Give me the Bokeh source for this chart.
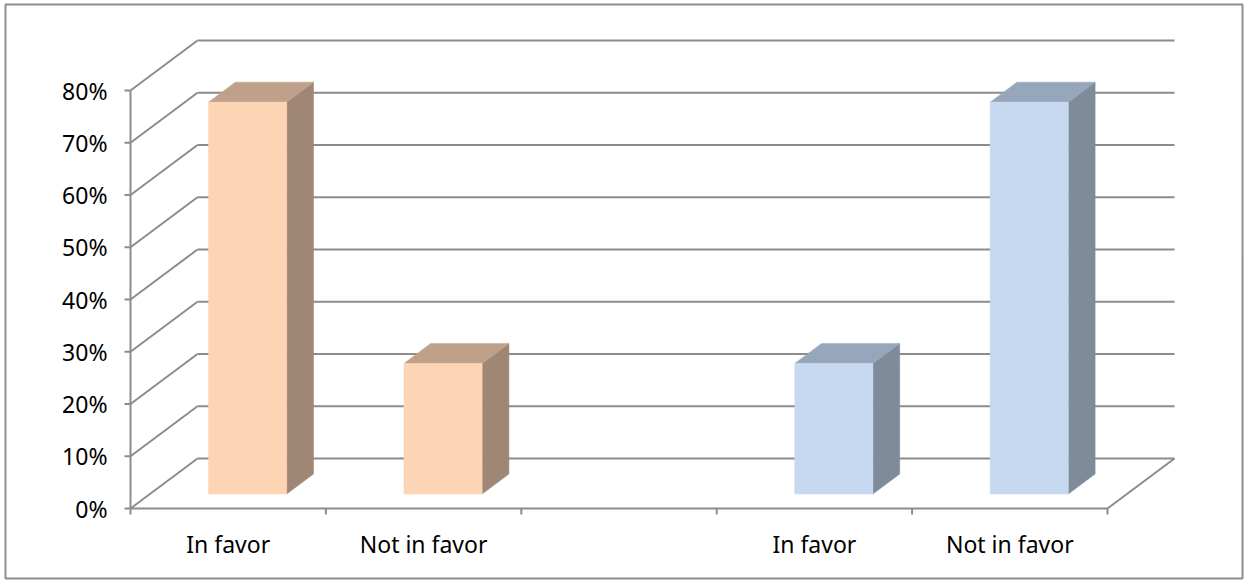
from bokeh.plotting import figure
from bokeh.models import Range1d
from bokeh.embed import file_html
from bokeh.resources import INLINE
from bokeh.core.properties import value

# ---- data ----
categories = ["In favor", "Not in favor", "", "In favor", "Not in favor"]
values = [0.75, 0.25, None, 0.25, 0.75]
series_of = [0, 0, None, 1, 1]
y_ticks = [0.0, 0.1, 0.2, 0.3, 0.4, 0.5, 0.6, 0.7, 0.8]
y_tick_labels = ["0%", "10%", "20%", "30%", "40%", "50%", "60%", "70%", "80%"]

# colours per series: front, top, side
front_colors = ["#FDD5B4", "#C6D9F0"]
top_colors = ["#BFA08A", "#97A7BB"]
side_colors = ["#A08674", "#7E8C9A"]

# ---- layout (pixels) ----
W, H = 1245, 581
X0_PX, X5_PX = 130.0, 1107.0     # front floor edge
Y0_PX, Y80_PX = 508.0, 90.0      # 0% and 80% on front axis
DEPTH_DX_PX, DEPTH_DY_PX = 67.0, 50.0
ncat = len(categories)
px_per_x = (X5_PX - X0_PX) / ncat
px_per_y = (Y0_PX - Y80_PX) / 0.8

def xd(px):
    return (px - X0_PX) / px_per_x

def yd(py):
    return (Y0_PX - py) / px_per_y

DX = DEPTH_DX_PX / px_per_x
DY = DEPTH_DY_PX / px_per_y
D0, D1 = 0.29, 0.69       # bar depth position (fraction of full depth)
BAR_W = 0.4

p = figure(width=W, height=H, output_backend="svg", toolbar_location=None,
           x_axis_location=None, y_axis_location=None,
           x_range=Range1d(xd(0), xd(W)), y_range=Range1d(yd(H), yd(0)),
           min_border=0)
p.min_border_left = p.min_border_right = p.min_border_top = p.min_border_bottom = 0
p.grid.visible = False
p.outline_line_color = None
p.background_fill_color = "white"
p.border_fill_color = "white"

GRID = "#8C8C8C"
GW = 2
FONT = value("Noto Sans")
FSIZE = "23px"

# outer chart border
p.quad(left=xd(5), right=xd(1242), bottom=yd(578), top=yd(4),
       fill_color=None, line_color="#8E8E8E", line_width=2)

ymax = y_ticks[-1]
# back wall gridlines
p.segment(x0=[DX] * len(y_ticks), y0=[v + DY for v in y_ticks],
          x1=[ncat + DX] * len(y_ticks), y1=[v + DY for v in y_ticks],
          line_color=GRID, line_width=GW)
# side wall diagonals
p.segment(x0=[0] * len(y_ticks), y0=y_ticks,
          x1=[DX] * len(y_ticks), y1=[v + DY for v in y_ticks],
          line_color=GRID, line_width=GW)
# front vertical axis
p.segment(x0=[0], y0=[0], x1=[0], y1=[ymax], line_color=GRID, line_width=GW)
# y tick marks
tick_len = xd(X0_PX) - xd(X0_PX - 6)
p.segment(x0=[-tick_len] * len(y_ticks), y0=y_ticks, x1=[0] * len(y_ticks), y1=y_ticks,
          line_color=GRID, line_width=GW)
# floor front edge + right edge
p.segment(x0=[0, ncat], y0=[0, 0], x1=[ncat, ncat + DX], y1=[0, DY],
          line_color=GRID, line_width=GW)
# category boundary ticks
bounds = list(range(ncat + 1))
tick_h = yd(Y0_PX) - yd(Y0_PX + 6)
p.segment(x0=bounds, y0=[0] * len(bounds), x1=bounds, y1=[-tick_h] * len(bounds),
          line_color=GRID, line_width=GW)

# y tick labels
p.text(x=[xd(107)] * len(y_ticks), y=y_ticks, text=y_tick_labels,
       text_align="right", text_baseline="middle", text_font=FONT,
       text_font_size=FSIZE, text_color="#000000")
# category labels
p.text(x=[i + 0.5 for i in range(ncat)], y=[yd(543)] * ncat, text=categories,
       text_align="center", text_baseline="middle", text_font=FONT,
       text_font_size=FSIZE, text_color="#000000")

# 3D bars
for i, (v, s) in enumerate(zip(values, series_of)):
    if v is None:
        continue
    xl = i + 0.5 - BAR_W / 2
    xr = i + 0.5 + BAR_W / 2
    fx0, fy0 = D0 * DX, D0 * DY
    bx0, by0 = D1 * DX, D1 * DY
    # side face
    p.patch(x=[xr + fx0, xr + bx0, xr + bx0, xr + fx0],
            y=[fy0, by0, v + by0, v + fy0],
            fill_color=side_colors[s], line_color=side_colors[s], line_width=0.5)
    # top face
    p.patch(x=[xl + fx0, xr + fx0, xr + bx0, xl + bx0],
            y=[v + fy0, v + fy0, v + by0, v + by0],
            fill_color=top_colors[s], line_color=top_colors[s], line_width=0.5)
    # front face
    p.quad(left=xl + fx0, right=xr + fx0, bottom=fy0, top=v + fy0,
           fill_color=front_colors[s], line_color=front_colors[s], line_width=0.5)

open("out.html", "w").write(file_html(p, INLINE))
